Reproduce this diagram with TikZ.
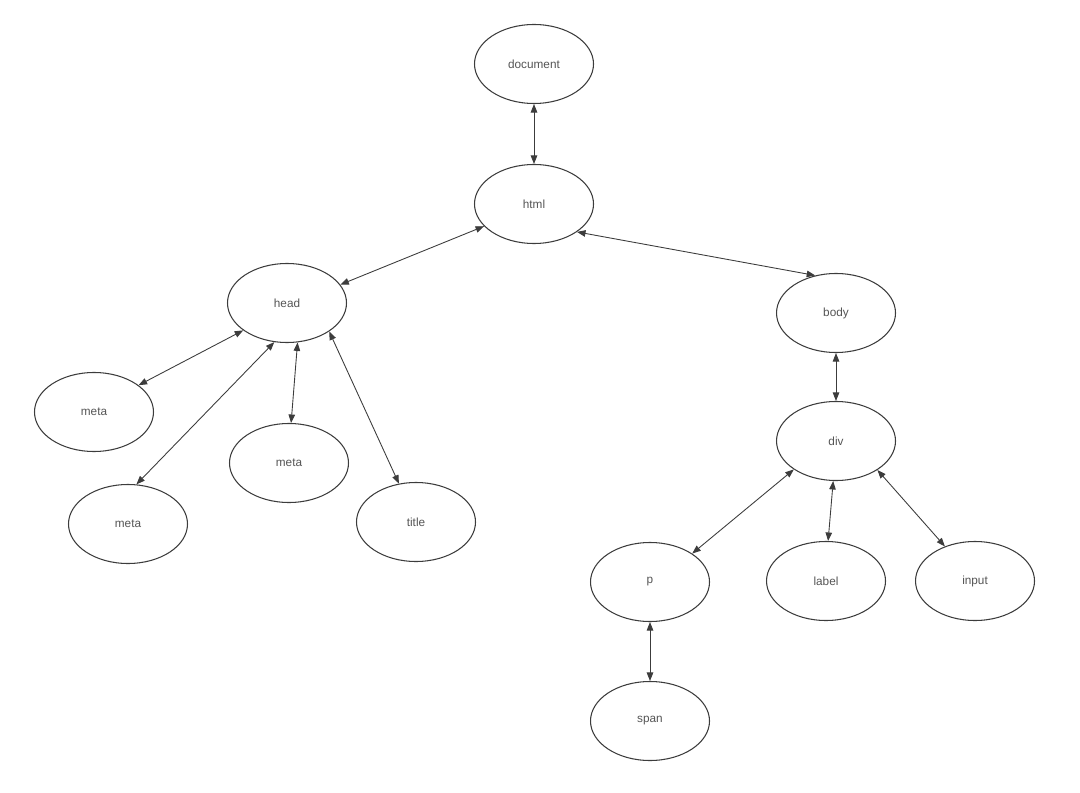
\documentclass[tikz,border=0pt]{standalone}
\usepackage{fontspec}
\setmainfont{Liberation Sans}
\usepackage{tikz}
\usetikzlibrary{arrows.meta}
\usetikzlibrary{shapes.geometric}
\definecolor{edgegray}{RGB}{60,60,60}
\definecolor{textgray}{RGB}{85,85,85}

\begin{document}
\begin{tikzpicture}[
    elem/.style={ellipse,draw=edgegray,line width=0.6pt,fill=white,
      minimum width=2.38cm,minimum height=1.58cm,inner sep=0pt,
      font=\fontsize{6.7}{8}\selectfont,text=textgray},
    link/.style={{Triangle[length=1.7mm,width=1.3mm]}-{Triangle[length=1.7mm,width=1.3mm]},
      edgegray,line width=0.5pt}]
    \useasboundingbox (0,0) rectangle (21.6,15.84);
    % tree of elements
    \node[elem] (document) at (10.68,14.56) {document};
    \node[elem] (html)     at (10.68,11.76) {html};
    \node[elem] (head)     at (5.74,9.78)   {head};
    \node[elem] (body)     at (16.72,9.58)  {body};
    \node[elem] (metaA)    at (1.88,7.60)   {meta};
    \node[elem] (metaB)    at (2.56,5.36)   {meta};
    \node[elem] (metaC)    at (5.78,6.58)   {meta};
    \node[elem] (title)    at (8.32,5.40)   {title};
    \node[elem] (div)      at (16.72,7.02)  {div};
    \node[elem] (p)        at (13.00,4.20)  {p};
    \node[elem] (label)    at (16.52,4.22)  {label};
    \node[elem] (input)    at (19.50,4.22)  {input};
    \node[elem] (span)     at (13.00,1.42)  {span};
    % parent <-> child links
    \foreach \a/\b in {document.south/html.north, html.204/head.19,
        html.-33/body.119, head.212/metaA.31, head.252/metaB.78,
        head.285/metaC.87, head.326/title.114, body.south/div.north,
        div.214/p.34, div.266/label.87, div.325/input.131,
        p.south/span.north}
      \draw[link] (\a) -- (\b);
  \end{tikzpicture}
\end{document}
